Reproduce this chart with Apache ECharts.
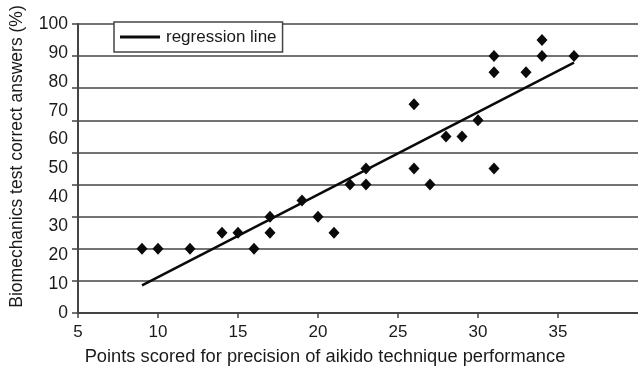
<!DOCTYPE html>
<html>
<head>
<meta charset="utf-8">
<script src="https://cdn.jsdelivr.net/npm/echarts@6/dist/echarts.min.js"></script>
<style>
  html, body { margin: 0; padding: 0; background: #fff; }
  #chart { width: 638px; height: 371px; }
</style>
</head>
<body>
<div id="chart"></div>
<script>
// Aikido precision score vs. biomechanics test result, one point per athlete
var precisionPoints = [9, 10, 12, 14, 15, 16, 17, 17, 19, 20, 21, 22, 23, 23, 26, 26, 27, 28, 29, 30, 31, 31, 31, 33, 34, 34, 36];
var correctAnswers  = [20, 20, 20, 25, 25, 20, 30, 25, 35, 30, 25, 40, 40, 45, 65, 45, 40, 55, 55, 60, 80, 75, 45, 75, 85, 80, 80];

// Fitted regression line, end points
var regressionX = [9, 36];
var regressionY = [8.6, 78];

// Tick labels on the value axis
var yTickLabels = ['0', '10', '20', '30', '40', '50', '60', '70', '80', '90', '100'];
var xTicks = [5, 10, 15, 20, 25, 30, 35, 40];

var FONT = '"Liberation Sans", Arial, Helvetica, sans-serif';
var INK = '#1a1a1a';
var RULE = '#444';

var scatterData = precisionPoints.map(function (x, i) { return [x, correctAnswers[i]]; });
var lineData = regressionX.map(function (x, i) { return [x, regressionY[i]]; });

var chart = echarts.init(document.getElementById('chart'), null, { renderer: 'canvas' });

chart.setOption({
  animation: false,
  backgroundColor: '#fff',
  textStyle: { fontFamily: FONT, color: INK },
  grid: { left: 78, top: 24, width: 562, height: 291, containLabel: false },
  legend: {
    data: [{ name: 'regression line', icon: 'path://M0,0H40V3H0Z' }],
    left: 114,
    top: 22,
    itemWidth: 40,
    itemHeight: 3,
    itemGap: 0,
    padding: [6, 6, 6, 6],
    backgroundColor: '#fff',
    borderColor: RULE,
    borderWidth: 1.5,
    borderRadius: 0,
    textStyle: { fontFamily: FONT, fontSize: 17, lineHeight: 18, color: INK, padding: [0, 0, 0, 1] }
  },
  xAxis: {
    type: 'value',
    min: 5,
    max: 40,
    interval: 5,
    name: 'Points scored for precision of aikido technique performance',
    nameLocation: 'middle',
    nameGap: 35,
    nameTextStyle: { fontFamily: FONT, fontSize: 18.3, color: INK, padding: [0, 66, 0, 0] },
    axisLine: { show: true, onZero: false, lineStyle: { color: RULE, width: 2 } },
    axisTick: { show: true, inside: false, length: 5, lineStyle: { color: RULE, width: 1.5 } },
    axisLabel: {
      margin: 11, fontSize: 17, color: INK, fontFamily: FONT,
      formatter: function (v) { return xTicks.indexOf(v) >= 0 ? String(v) : ''; },
      showMaxLabel: false
    },
    splitLine: { show: false }
  },
  yAxis: [
    {
      // data axis: carries the gridlines, ticks and the plotted values
      type: 'value',
      min: 0,
      max: 90,
      interval: 10,
      position: 'left',
      axisLine: { show: true, onZero: false, lineStyle: { color: RULE, width: 2 } },
      axisTick: { show: true, inside: false, length: 6, lineStyle: { color: RULE, width: 1.5 } },
      axisLabel: { show: false },
      splitLine: { show: true, lineStyle: { color: RULE, width: 1.5 } }
    },
    {
      // printed scale labels and axis title
      type: 'value',
      min: 0,
      max: 100,
      interval: 10,
      position: 'left',
      name: 'Biomechanics test correct answers (%)',
      nameLocation: 'middle',
      nameGap: 52,
      nameTextStyle: { fontFamily: FONT, fontSize: 17.5, color: INK, padding: [0, 0, 0, 24] },
      axisLine: { show: false },
      axisTick: { show: false },
      splitLine: { show: false },
      axisLabel: {
        margin: 10, fontSize: 17.5, color: INK, fontFamily: FONT,
        formatter: function (v) { return yTickLabels[Math.round(v / 10)] || ''; }
      }
    }
  ],
  series: [
    {
      name: 'athletes',
      type: 'scatter',
      yAxisIndex: 0,
      data: scatterData,
      symbol: 'diamond',
      symbolSize: [11, 12],
      itemStyle: { color: '#0a0a0a', opacity: 1 },
      z: 3
    },
    {
      name: 'regression line',
      type: 'line',
      yAxisIndex: 0,
      data: lineData,
      symbol: 'none',
      lineStyle: { color: '#0a0a0a', width: 2.5 },
      itemStyle: { color: '#0a0a0a' },
      z: 4
    }
  ]
});
</script>
</body>
</html>
